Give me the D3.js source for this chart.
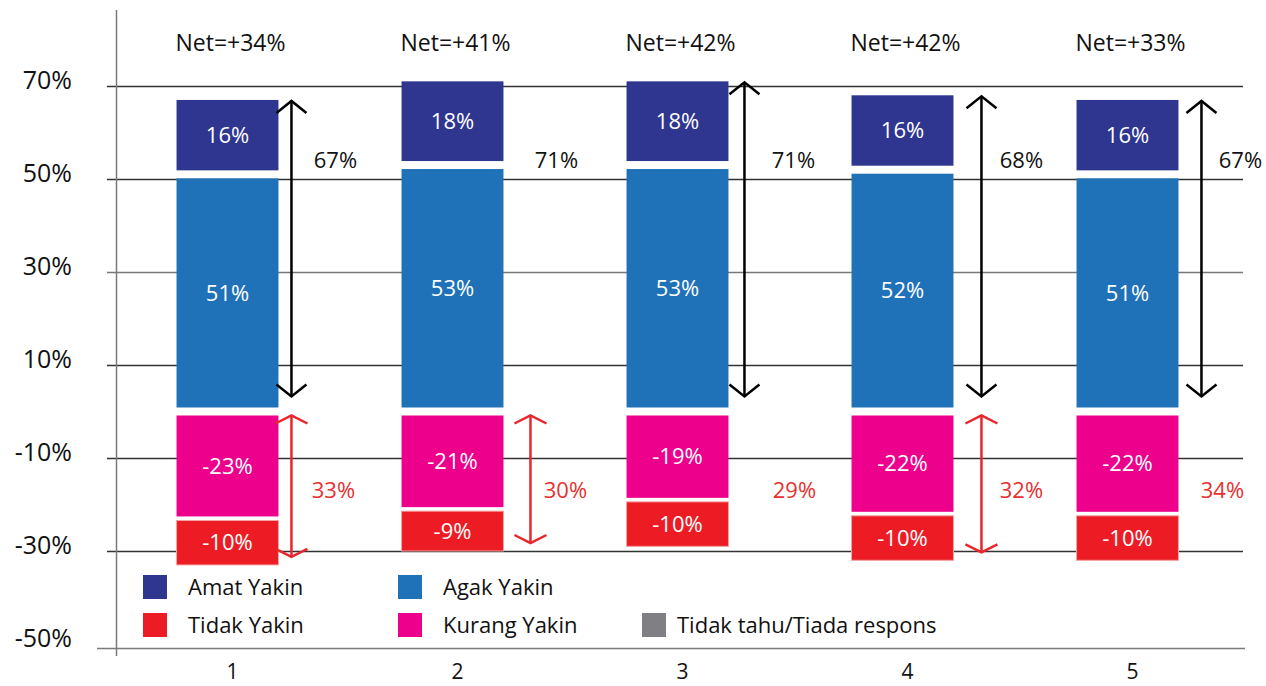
<!DOCTYPE html>
<html>
<head>
<meta charset="utf-8">
<script src="https://cdn.jsdelivr.net/npm/d3@7"></script>
<style>
  body { margin: 0; background: #fff; }
  svg { font-family: "Open Sans", "Noto Sans", sans-serif; }
</style>
</head>
<body>
<svg width="1266" height="686"></svg>
<script>
// Data
const categories = ["1", "2", "3", "4", "5"];
const amatYakin = [16, 18, 18, 16, 16];
const agakYakin = [51, 53, 53, 52, 51];
const kurangYakin = [-23, -21, -19, -22, -22];
const tidakYakin = [-10, -9, -10, -10, -10];
const netLabels = ["Net=+34%", "Net=+41%", "Net=+42%", "Net=+42%", "Net=+33%"];
const posTotals = ["67%", "71%", "71%", "68%", "67%"];
const negTotals = ["33%", "30%", "29%", "32%", "34%"];
const showPosArrow = [true, false, true, true, true];
const showNegArrow = [true, true, false, true, false];
const yTicks = [70, 50, 30, 10, -10, -30, -50];

const legendItems = [
    { name: "Amat Yakin", color: "#2e368f" },
    { name: "Agak Yakin", color: "#1f72b8" },
    { name: "Tidak Yakin", color: "#ed1c24" },
    { name: "Kurang Yakin", color: "#ec008c" },
    { name: "Tidak tahu/Tiada respons", color: "#808084" }
];

// layout tweaks (pixel offsets of arrows / total labels from bar edge)
const arrowDx = [13, 27, 16, 28, 23];
const posLabelDx = [57, 53, 65, 68, 62];
const negLabelDx = [55, 62, 66, 68, 44];

const svg = d3.select("svg");

const x = d3.scaleBand()
    .domain(categories)
    .range([115, 1240])
    .paddingInner(0.547)
    .paddingOuter(0.2735);

const y = d3.scaleLinear()
    .domain([-30, 70])
    .range([551, 86]);

// gridlines
svg.selectAll(".grid")
    .data(yTicks.filter(d => d > -50))
    .enter()
    .append("line")
    .attr("x1", 107)
    .attr("x2", 1243)
    .attr("y1", d => Math.round(y(d)) + 0.5)
    .attr("y2", d => Math.round(y(d)) + 0.5)
    .attr("stroke", d => d === 30 ? "#777" : "#333")
    .attr("stroke-width", 1.3);

// y axis labels
svg.selectAll(".ylab")
    .data(yTicks)
    .enter()
    .append("text")
    .attr("x", 72)
    .attr("y", d => y(d) + 3)
    .attr("text-anchor", "end")
    .attr("font-size", 25)
    .attr("fill", "#111")
    .text(d => d + "%");

// axes lines
svg.append("line")
    .attr("x1", 116.5).attr("x2", 116.5)
    .attr("y1", 10).attr("y2", 656)
    .attr("stroke", "#7a7a7a").attr("stroke-width", 1.5);

svg.append("line")
    .attr("x1", 97).attr("x2", 1245)
    .attr("y1", 648.5).attr("y2", 648.5)
    .attr("stroke", "#7a7a7a").attr("stroke-width", 1.5);

// stacked segments
const segments = [];
categories.forEach((c, i) => {
    segments.push({ c, v: agakYakin[i], y0: 0, y1: agakYakin[i], color: "#1f72b8", g0: 4, g1: 4 });
    segments.push({ c, v: amatYakin[i], y0: agakYakin[i], y1: agakYakin[i] + amatYakin[i], color: "#2e368f", g0: 4, g1: 0 });
    segments.push({ c, v: kurangYakin[i], y0: 0, y1: kurangYakin[i], color: "#ec008c", g0: 4, g1: 2 });
    segments.push({ c, v: tidakYakin[i], y0: kurangYakin[i], y1: kurangYakin[i] + tidakYakin[i], color: "#ed1c24", g0: 2, g1: 0, edge: true });
});

const seg = svg.selectAll(".seg")
    .data(segments)
    .enter()
    .append("g");

seg.append("rect")
    .attr("x", d => x(d.c))
    .attr("width", x.bandwidth())
    .attr("y", d => Math.min(y(d.y0), y(d.y1)) + (d.v > 0 ? d.g1 : d.g0))
    .attr("height", d => Math.abs(y(d.y0) - y(d.y1)) - d.g0 - d.g1)
    .attr("fill", d => d.color)
    .attr("stroke", d => d.edge ? "#f5a3a3" : "none")
    .attr("stroke-width", 1);

seg.append("text")
    .attr("x", d => x(d.c) + x.bandwidth() / 2)
    .attr("y", d => {
        const top = Math.min(y(d.y0), y(d.y1)) + (d.v > 0 ? d.g1 : d.g0);
        const h = Math.abs(y(d.y0) - y(d.y1)) - d.g0 - d.g1;
        return top + h / 2;
    })
    .attr("dy", "0.35em")
    .attr("text-anchor", "middle")
    .attr("font-size", 22)
    .attr("fill", "#fff")
    .text(d => d.v + "%");

// net labels
svg.selectAll(".net")
    .data(categories)
    .enter()
    .append("text")
    .attr("x", d => x(d) + x.bandwidth() / 2 + 3)
    .attr("y", 43)
    .attr("dy", "0.35em")
    .attr("text-anchor", "middle")
    .attr("font-size", 23)
    .attr("fill", "#111")
    .text((d, i) => netLabels[i]);

// double arrows
function arrow(ax, yTop, yBot, color, hw, hh) {
    const g = svg.append("g")
        .attr("stroke", color)
        .attr("stroke-width", 2.5)
        .attr("fill", "none");
    g.append("line").attr("x1", ax).attr("x2", ax).attr("y1", yTop).attr("y2", yBot);
    g.append("path").attr("d", `M${ax - hw},${yTop + hh} L${ax},${yTop} L${ax + hw},${yTop + hh}`);
    g.append("path").attr("d", `M${ax - hw},${yBot - hh} L${ax},${yBot} L${ax + hw},${yBot - hh}`);
}

categories.forEach((c, i) => {
    const right = x(c) + x.bandwidth();
    const pos = amatYakin[i] + agakYakin[i];
    const neg = kurangYakin[i] + tidakYakin[i];
    if (showPosArrow[i]) arrow(right + arrowDx[i], y(pos) + 1, y(0) - 15, "#000", 15, 12);
    if (showNegArrow[i]) arrow(right + arrowDx[i], y(0) + 4, y(neg) - 8, "#e8262b", 16, 8);

    svg.append("text")
        .attr("x", right + posLabelDx[i])
        .attr("y", y(54))
        .attr("dy", "0.35em")
        .attr("text-anchor", "middle")
        .attr("font-size", 22)
        .attr("fill", "#111")
        .text(posTotals[i]);

    svg.append("text")
        .attr("x", right + negLabelDx[i])
        .attr("y", y(-17))
        .attr("dy", "0.35em")
        .attr("text-anchor", "middle")
        .attr("font-size", 22)
        .attr("fill", "#e8302f")
        .text(negTotals[i]);
});

// category labels
svg.selectAll(".cat")
    .data(categories)
    .enter()
    .append("text")
    .attr("x", d => x(d) + x.bandwidth() / 2 + 5)
    .attr("y", 672)
    .attr("dy", "0.35em")
    .attr("text-anchor", "middle")
    .attr("font-size", 21)
    .attr("fill", "#111")
    .text(d => d);

// legend
const legendPos = [[143, 575], [398, 575], [143, 613], [398, 613], [642, 613]];
const lg = svg.selectAll(".legend")
    .data(legendItems)
    .enter()
    .append("g")
    .attr("transform", (d, i) => `translate(${legendPos[i][0]},${legendPos[i][1]})`);

lg.append("rect")
    .attr("width", 24)
    .attr("height", 24)
    .attr("fill", d => d.color);

lg.append("text")
    .attr("x", (d, i) => i === 4 ? 35 : 45)
    .attr("y", 12)
    .attr("dy", "0.35em")
    .attr("font-size", 22)
    .attr("fill", "#111")
    .text(d => d.name);
</script>
</body>
</html>
